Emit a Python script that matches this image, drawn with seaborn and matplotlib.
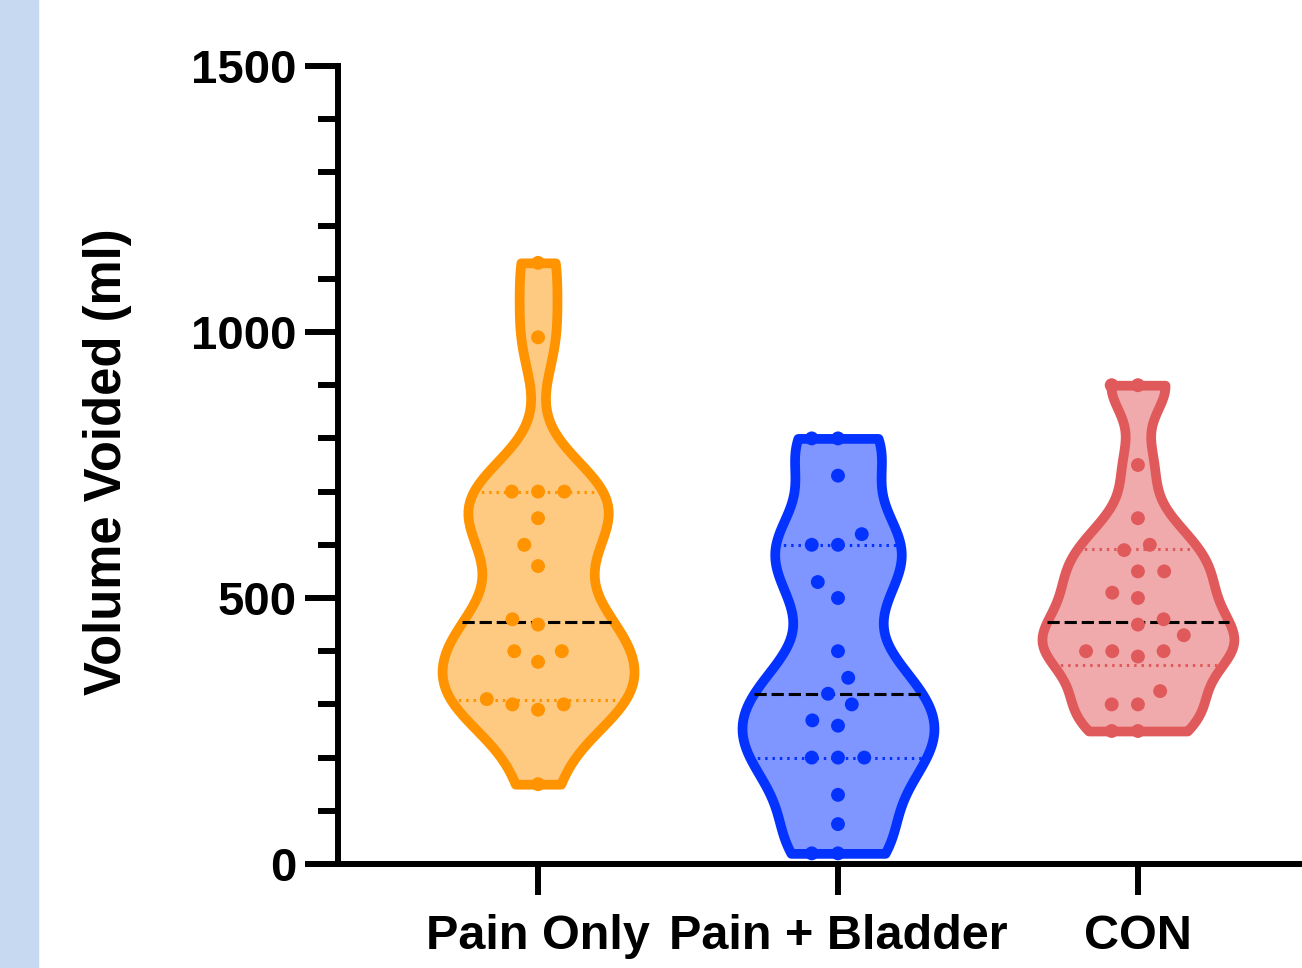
import matplotlib
matplotlib.use("Agg")
import matplotlib.pyplot as plt
from matplotlib.patches import Rectangle
from matplotlib.ticker import MultipleLocator
import numpy as np
import pandas as pd
import seaborn as sns

groups = ["Pain Only", "Pain + Bladder", "CON"]
pain_only = [1130, 990, 700, 700, 700, 650, 600, 560, 460, 450, 400, 400,
             380, 310, 300, 300, 290, 150]
pain_bladder = [800, 800, 730, 620, 600, 600, 530, 500, 400, 350, 320, 300,
                270, 260, 200, 200, 200, 130, 75, 20, 20]
con = [900, 900, 750, 650, 600, 590, 550, 550, 510, 500, 460, 450, 430,
       400, 400, 400, 390, 325, 300, 300, 250, 250]
edge_colors = ["#FF9300", "#0433FF", "#E05A5C"]
fill_colors = ["#FEC980", "#7F95FF", "#F0AAAB"]

all_vals = [pain_only, pain_bladder, con]
df = pd.DataFrame({
    "group": np.repeat(groups, [len(v) for v in all_vals]),
    "volume": pain_only + pain_bladder + con,
})

sns.set_style("ticks")
plt.rcParams["font.family"] = ["Liberation Sans", "DejaVu Sans"]
plt.rcParams["font.weight"] = "bold"
plt.rcParams["text.color"] = "black"
plt.rcParams["xtick.labelcolor"] = "black"
plt.rcParams["ytick.labelcolor"] = "black"

fig = plt.figure(figsize=(13.02, 9.68), dpi=100)
fig.patches.append(Rectangle((0, 0), 38 / 1302, 1, transform=fig.transFigure,
                             color="#C6D9F1", zorder=0))
ax = fig.add_axes([338 / 1302, 104 / 968, 964 / 1302, 798 / 968])

sns.violinplot(data=df, x="group", y="volume", hue="group", order=groups,
               hue_order=groups, palette=fill_colors, legend=False,
               inner="quart", cut=0, bw_adjust=0.52, density_norm="width",
               width=0.64, linewidth=7, saturation=1, ax=ax)

# outline colours and Prism-style quartile lines
for i, coll in enumerate(ax.collections[:3]):
    coll.set_edgecolor(edge_colors[i])
    coll.set_linewidth(7)
    coll.set_joinstyle("round")
    verts = coll.get_paths()[0].vertices
    right = verts[verts[:, 0] > i]
    right = right[np.argsort(right[:, 1])]
    q = np.percentile(all_vals[i], [25, 50, 75], method="weibull")
    hw = np.interp(q, right[:, 1], right[:, 0] - i)
    mine = [ln for ln in ax.lines if abs(np.mean(ln.get_xdata()) - i) < 0.3]
    mine.sort(key=lambda ln: np.mean(ln.get_ydata()))
    for j, ln in enumerate(mine):
        ln.set_data([i - hw[j], i + hw[j]], [q[j], q[j]])
        if j == 1:
            ln.set_color("black")
            ln.set_linewidth(2.2)
            ln.set_linestyle((0, (4, 1.6)))
        else:
            ln.set_color(edge_colors[i])
            ln.set_linewidth(2.2)
            ln.set_linestyle((0, (0.8, 1.6)))

sns.swarmplot(data=df, x="group", y="volume", hue="group", order=groups,
              hue_order=groups, palette=edge_colors, legend=False,
              size=18, ax=ax)

ax.set_xlim(-0.667, 2.547)
ax.set_ylim(0, 1500)
ax.yaxis.set_major_locator(MultipleLocator(500))
ax.yaxis.set_minor_locator(MultipleLocator(100))
for s in ["top", "right"]:
    ax.spines[s].set_visible(False)
for s in ["left", "bottom"]:
    ax.spines[s].set_linewidth(4.3)
    ax.spines[s].set_color("black")
    ax.spines[s].set_capstyle("projecting")
ax.tick_params(axis="y", which="major", length=24, width=4.3, labelsize=34,
               pad=6, color="black")
ax.tick_params(axis="y", which="minor", length=14.5, width=4.3, color="black")
ax.tick_params(axis="x", length=22, width=4.3, labelsize=35, pad=14,
               color="black")
ax.set_xlabel("")
ax.set_ylabel("")
fig.text(107 / 1302, 1 - 462 / 968, "Volume Voided (ml)", rotation=90,
         ha="center", va="center", fontsize=36.5, fontweight="bold")

# lay out the swarm with wide spacing, then freeze it and shrink the dots
fig.canvas.draw()
for coll in ax.collections[3:]:
    if "draw" in coll.__dict__:
        del coll.draw
    coll.set_sizes([10 ** 2])

fig.savefig("out.png", dpi=100)
